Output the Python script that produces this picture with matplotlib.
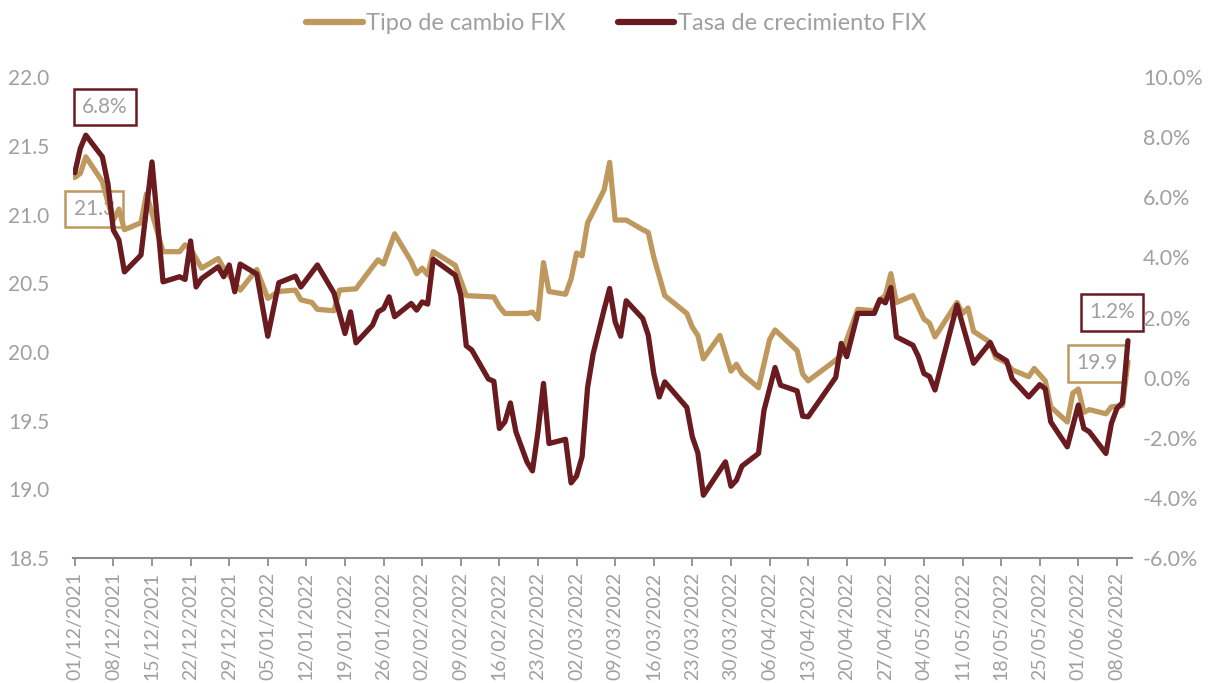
import matplotlib
matplotlib.use('Agg')
import matplotlib.pyplot as plt
import matplotlib.dates as mdates
import pandas as pd

# Tipo de cambio FIX (eje izquierdo)
tipo_fechas = ['2021-12-01', '2021-12-02', '2021-12-03', '2021-12-06', '2021-12-07', '2021-12-08',
               '2021-12-09', '2021-12-10', '2021-12-13', '2021-12-14', '2021-12-17', '2021-12-20',
               '2021-12-21', '2021-12-22', '2021-12-24', '2021-12-27', '2021-12-28', '2021-12-31',
               '2022-01-03', '2022-01-05', '2022-01-07', '2022-01-10', '2022-01-11', '2022-01-13',
               '2022-01-14', '2022-01-17', '2022-01-18', '2022-01-21', '2022-01-24', '2022-01-25',
               '2022-01-26', '2022-01-28', '2022-01-31',
               '2022-02-01', '2022-02-02', '2022-02-03', '2022-02-04', '2022-02-08', '2022-02-10',
               '2022-02-15', '2022-02-16', '2022-02-17', '2022-02-21', '2022-02-22', '2022-02-23',
               '2022-02-24', '2022-02-25', '2022-02-28',
               '2022-03-01', '2022-03-02', '2022-03-03', '2022-03-04', '2022-03-07', '2022-03-08',
               '2022-03-09', '2022-03-11', '2022-03-14', '2022-03-15', '2022-03-16', '2022-03-18',
               '2022-03-22', '2022-03-23', '2022-03-24', '2022-03-25', '2022-03-28', '2022-03-30',
               '2022-03-31',
               '2022-04-01', '2022-04-04', '2022-04-06', '2022-04-07', '2022-04-11', '2022-04-12',
               '2022-04-13', '2022-04-18', '2022-04-19', '2022-04-22', '2022-04-25', '2022-04-26',
               '2022-04-27', '2022-04-28', '2022-04-29',
               '2022-05-02', '2022-05-04', '2022-05-05', '2022-05-06', '2022-05-10', '2022-05-11',
               '2022-05-12', '2022-05-13', '2022-05-16', '2022-05-17', '2022-05-19', '2022-05-20',
               '2022-05-23', '2022-05-24', '2022-05-26', '2022-05-27', '2022-05-30', '2022-05-31',
               '2022-06-01', '2022-06-02', '2022-06-03', '2022-06-06', '2022-06-07', '2022-06-09',
               '2022-06-10']
tipo_valores = [21.27, 21.30, 21.42, 21.24, 21.09, 20.96, 21.04, 20.89, 20.94, 21.15, 20.73, 20.73,
                20.78, 20.75, 20.61, 20.68, 20.61, 20.45,
                20.60, 20.39, 20.44, 20.45, 20.38, 20.36, 20.31, 20.30, 20.45, 20.46, 20.62, 20.67,
                20.64, 20.86, 20.66,
                20.57, 20.61, 20.56, 20.73, 20.63, 20.41, 20.40, 20.33, 20.28, 20.28, 20.29, 20.24,
                20.65, 20.44, 20.42,
                20.53, 20.72, 20.70, 20.94, 21.18, 21.38, 20.96, 20.96, 20.89, 20.87, 20.69, 20.41,
                20.28, 20.18, 20.12, 19.95, 20.12, 19.86, 19.91,
                19.84, 19.74, 20.09, 20.16, 20.01, 19.84, 19.79, 19.94, 19.98, 20.31, 20.30, 20.38,
                20.41, 20.57, 20.36,
                20.41, 20.24, 20.21, 20.11, 20.36, 20.28, 20.32, 20.15, 20.07, 19.96, 19.92, 19.87,
                19.82, 19.88, 19.79, 19.60, 19.49, 19.70,
                19.73, 19.56, 19.58, 19.55, 19.60, 19.61, 19.93]

# Tasa de crecimiento FIX (eje derecho, %)
tasa_fechas = ['2021-12-01', '2021-12-02', '2021-12-03', '2021-12-06', '2021-12-07', '2021-12-08',
               '2021-12-09', '2021-12-10', '2021-12-13', '2021-12-15', '2021-12-17', '2021-12-20',
               '2021-12-21', '2021-12-22', '2021-12-23', '2021-12-24', '2021-12-27', '2021-12-28',
               '2021-12-29', '2021-12-30', '2021-12-31',
               '2022-01-03', '2022-01-05', '2022-01-07', '2022-01-10', '2022-01-11', '2022-01-14',
               '2022-01-17', '2022-01-19', '2022-01-20', '2022-01-21', '2022-01-24', '2022-01-25',
               '2022-01-26', '2022-01-27', '2022-01-28', '2022-01-31',
               '2022-02-01', '2022-02-02', '2022-02-03', '2022-02-04', '2022-02-08', '2022-02-09',
               '2022-02-10', '2022-02-11', '2022-02-14', '2022-02-15', '2022-02-16', '2022-02-17',
               '2022-02-18', '2022-02-19', '2022-02-21', '2022-02-22', '2022-02-23', '2022-02-24',
               '2022-02-25', '2022-02-28',
               '2022-03-01', '2022-03-02', '2022-03-03', '2022-03-04', '2022-03-05', '2022-03-07',
               '2022-03-08', '2022-03-09', '2022-03-10', '2022-03-11', '2022-03-14', '2022-03-15',
               '2022-03-16', '2022-03-17', '2022-03-18', '2022-03-22', '2022-03-23', '2022-03-24',
               '2022-03-25', '2022-03-29', '2022-03-30', '2022-03-31',
               '2022-04-01', '2022-04-04', '2022-04-05', '2022-04-07', '2022-04-08', '2022-04-11',
               '2022-04-12', '2022-04-13', '2022-04-18', '2022-04-19', '2022-04-20', '2022-04-22',
               '2022-04-25', '2022-04-26', '2022-04-27', '2022-04-28', '2022-04-29',
               '2022-05-02', '2022-05-03', '2022-05-04', '2022-05-05', '2022-05-06', '2022-05-10',
               '2022-05-13', '2022-05-16', '2022-05-17', '2022-05-19', '2022-05-20', '2022-05-23',
               '2022-05-25', '2022-05-26', '2022-05-27', '2022-05-30',
               '2022-06-01', '2022-06-02', '2022-06-03', '2022-06-06', '2022-06-07', '2022-06-08',
               '2022-06-09', '2022-06-10']
tasa_valores = [6.82, 7.63, 8.07, 7.35, 6.46, 4.91, 4.58, 3.52, 4.08, 7.18, 3.19, 3.36,
                3.27, 4.55, 3.02, 3.30, 3.69, 3.36, 3.75, 2.86, 3.78,
                3.45, 1.38, 3.16, 3.38, 3.02, 3.75, 2.82, 1.47, 2.19, 1.16, 1.75, 2.19,
                2.30, 2.69, 2.03, 2.47,
                2.25, 2.52, 2.45, 3.94, 3.41, 2.75, 1.06, 0.92, -0.04, -0.12, -1.69, -1.47,
                -0.84, -1.80, -2.80, -3.10, -1.80, -0.19, -2.19, -2.05,
                -3.50, -3.27, -2.63, -0.32, 0.79, 2.27, 2.97, 1.86, 1.38, 2.56, 1.97, 1.42,
                0.14, -0.64, -0.14, -0.99, -1.97, -2.50, -3.91, -2.80, -3.61, -3.41,
                -2.94, -2.52, -1.08, 0.34, -0.25, -0.44, -1.28, -1.30, 0.01, 1.14, 0.70, 2.14,
                2.14, 2.60, 2.49, 3.00, 1.36,
                1.08, 0.70, 0.14, 0.04, -0.41, 2.42, 0.48, 1.17, 0.79, 0.56, -0.04, -0.64,
                -0.23, -0.37, -1.47, -2.30,
                -0.91, -1.69, -1.80, -2.52, -1.52, -1.02, -0.83, 1.23]

tick_fechas = pd.date_range('2021-12-01', '2022-06-08', freq='7D')

col_tipo = '#BF985E'
col_tasa = '#6A1B20'
gris = '#A0A0A0'

plt.rcParams['font.family'] = ['Lato', 'DejaVu Sans']

fig = plt.figure(figsize=(12.2, 6.83), dpi=100)
ax = fig.add_axes([0.0598, 0.183, 0.868, 0.704])
ax2 = ax.twinx()

l1, = ax.plot(pd.to_datetime(tipo_fechas), tipo_valores, color=col_tipo, lw=3.8,
              solid_joinstyle='round', solid_capstyle='round')
l2, = ax2.plot(pd.to_datetime(tasa_fechas), tasa_valores, color=col_tasa, lw=3.8,
               solid_joinstyle='round', solid_capstyle='round')

x0 = pd.Timestamp('2021-12-01') - pd.Timedelta(hours=8)
ax.set_xlim(x0, x0 + pd.Timedelta(days=192.05))
ax.set_ylim(18.5, 22.0)
ax2.set_ylim(-6, 10)
ax.set_yticks([18.5 + 0.5 * i for i in range(8)])
ax2.set_yticks(list(range(-6, 11, 2)))
ax.yaxis.set_major_formatter(plt.FuncFormatter(lambda v, p: f'{v:.1f}'))
ax2.yaxis.set_major_formatter(plt.FuncFormatter(lambda v, p: f'{v:.1f}%'))

ax.set_xticks(tick_fechas)
ax.xaxis.set_major_formatter(mdates.DateFormatter('%d/%m/%Y'))
for lab in ax.get_xticklabels():
    lab.set_rotation(90)

for a in (ax, ax2):
    for s in a.spines.values():
        s.set_visible(False)
ax.spines['bottom'].set_visible(True)
ax.spines['bottom'].set_color('#8C8C8C')
ax.spines['bottom'].set_linewidth(1.5)

ax.tick_params(axis='x', direction='out', length=6, width=1.3, color='#8C8C8C',
               labelcolor=gris, labelsize=14, pad=4)
ax.tick_params(axis='y', length=0, labelcolor=gris, labelsize=15, pad=17)
ax2.tick_params(axis='y', length=0, labelcolor=gris, labelsize=15.5, pad=8)

# etiquetas de valores
def etiqueta(a, txt, x, y, col):
    a.text(x, y, txt, transform=a.transAxes, ha='center', va='center', fontsize=15,
           color=gris, zorder=1,
           bbox=dict(boxstyle='square,pad=0.4', facecolor='none', edgecolor=col, linewidth=1.8))

etiqueta(ax, '6.8%', 0.030, 0.938, col_tasa)
etiqueta(ax, '21.3', 0.020, 0.726, col_tipo)
etiqueta(ax, '1.2%', 0.981, 0.511, col_tasa)
etiqueta(ax, '19.9', 0.967, 0.405, col_tipo)

leg = fig.legend([l1, l2], ['Tipo de cambio FIX', 'Tasa de crecimiento FIX'], loc='center',
                 bbox_to_anchor=(0.505, 0.965), ncol=2, frameon=False, fontsize=17,
                 labelcolor=gris, handlelength=2.4, handletextpad=0.15, columnspacing=2.2)
for h in leg.get_lines():
    h.set_linewidth(4.5)

fig.savefig('out.png', dpi=100)
